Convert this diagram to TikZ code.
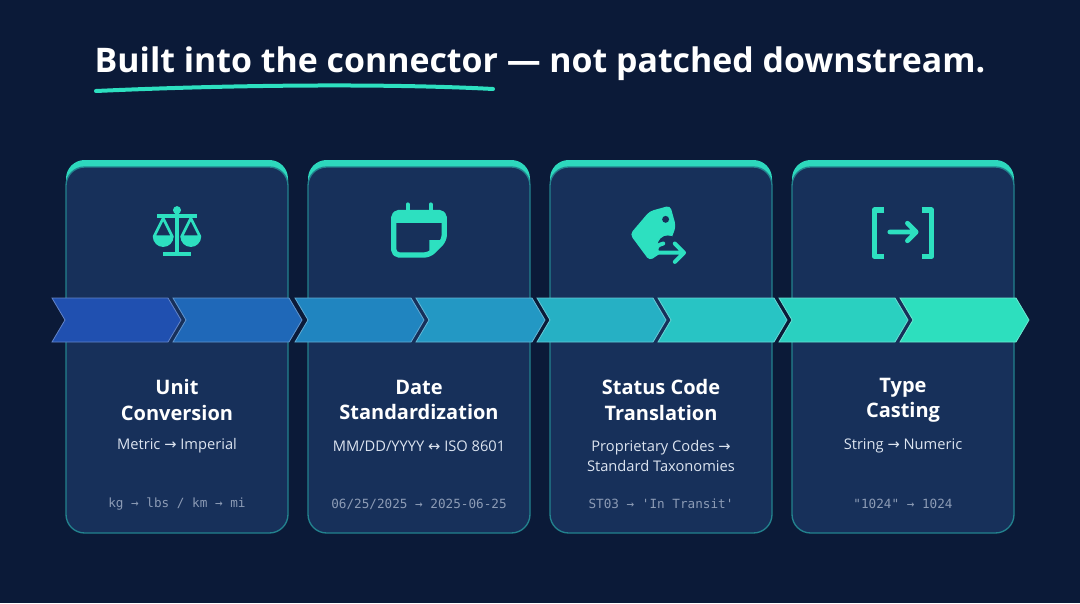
\documentclass[tikz,border=0pt]{standalone}
\usepackage{fontspec}
\setmainfont{Open Sans}
\newfontfamily\monof{DejaVu Sans Mono}
\newfontfamily\arf{DejaVu Sans}
\usetikzlibrary{calc}
\definecolor{bg}{HTML}{0B1A38}
\definecolor{card}{HTML}{17305A}
\definecolor{teal}{HTML}{2DE0C0}
\definecolor{tealb}{HTML}{2BB8B0}
\definecolor{mono}{HTML}{8C9BB5}
\definecolor{sub}{HTML}{DCE4F0}
\newcommand{\rar}{{\arf →}}
\newcommand{\lrar}{{\arf ↔}}
\begin{document}
\begin{tikzpicture}[x=0.75pt,y=-0.75pt,
  cardbox/.style={draw=tealb!60!card,line width=1pt,fill=card,rounded corners=14pt},
  ttl/.style={text=white,font=\fontsize{15}{19}\selectfont\bfseries,align=center},
  sb/.style={text=sub,font=\fontsize{11}{14.5}\selectfont,align=center},
  mn/.style={text=mono,font=\monof\fontsize{9.5}{12}\selectfont},
  icon/.style={fill=teal,draw=none}]
\fill[bg] (0,0) rectangle (1080,603);
\useasboundingbox (0,0) rectangle (1080,603);
% title
\node[text=white,font=\fontsize{25.4}{30}\selectfont\bfseries] (title) at (540,64) {Built into the connector — not patched downstream.};
\draw[teal,line width=3pt,line cap=round] (96,91) .. controls (250,84) and (400,84) .. (493,89);
% cards
\foreach \i/\cx in {1/177,2/419,3/661,4/903}{
  \fill[teal!80!tealb,rounded corners=14pt] (\cx-111,160) rectangle (\cx+111,200);
  \draw[cardbox] (\cx-111,167) rectangle (\cx+111,533);
  \coordinate (c\i) at (\cx,0);
}
% chevrons
\foreach \k/\x/\col in {0/52/2050B0,1/173/1F68B8,2/295/2085C0,3/416/2398C4,4/537/26B0C4,5/658/28C4C4,6/779/2AD0C0,7/900/2DDFBE}{
  \definecolor{cc}{HTML}{\col}
  \fill[cc,draw=cc!70!white,line width=0.6pt] (\x,298) -- (\x+116,298) -- (\x+129,320) -- (\x+116,342) -- (\x,342) -- (\x+13,320) -- cycle;
}
% icons: scale
\begin{scope}[shift={(177,232)},scale=1.15]
  \fill[teal] (-2,-19) rectangle (2,17);
  \fill[teal] (-17,-16) rectangle (17,-12);
  \fill[teal] (-12,17) rectangle (12,21);
  \fill[teal] (0,-19) circle (3.5);
  \draw[teal,line width=2pt,line join=round] (-20,4) -- (-12,-12) -- (-4,4) -- cycle;
  \draw[teal,line width=2pt,line join=round] (20,4) -- (12,-12) -- (4,4) -- cycle;
  \fill[teal] (-21,4) -- (-3,4) arc (0:180:9) -- cycle;
  \fill[teal] (3,4) -- (21,4) arc (0:180:9) -- cycle;
\end{scope}
\begin{scope}[shift={(419,232)},scale=1.15]
  \draw[teal,line width=4pt,rounded corners=4pt,line join=round] (9,20) -- (-22,20) -- (-22,-17) -- (22,-17) -- (22,7) -- cycle;
  \fill[teal] (-22,-17) rectangle (22,-8);
  \fill[teal] (22,7) -- (9,20) -- (9,7) -- cycle;
  \draw[teal,line width=3pt,line cap=round] (-10,-24) -- (-10,-14) (10,-24) -- (10,-14);
\end{scope}
\begin{scope}[shift={(661,232)},scale=1.15]
  \fill[teal,rounded corners=3pt] (-27,2) -- (-10,-18) -- (8,-23) -- (13,-5) -- (6,14) -- (-10,25) -- cycle;
  \fill[card] (4,-11) circle (3);
  \fill[card] (6,12) circle (9);
  \draw[teal,line width=3pt,line cap=round,line join=round] (-4,18) -- (20,18) (12,10) -- (20,18) -- (12,26);
  \draw[teal,line width=3pt,line cap=round] (-4,18) .. controls (-4,12) .. (2,10);
\end{scope}
\begin{scope}[shift={(903,232)},scale=1.1]
  \draw[teal,line width=4pt,line join=round] (-17,-20) -- (-26,-20) -- (-26,22) -- (-17,22);
  \draw[teal,line width=4pt,line join=round] (17,-20) -- (26,-20) -- (26,22) -- (17,22);
  \draw[teal,line width=3.5pt,line cap=round,line join=round] (-12,0) -- (12,0) (4,-8) -- (12,0) -- (4,8);
\end{scope}
% texts
\node[ttl] (t1) at (177,400) {Unit\\Conversion};
\node[ttl] (t2) at (419,400) {Date\\Standardization};
\node[ttl] (t3) at (661,400) {Status Code\\Translation};
\node[ttl] (t4) at (903,400) {Type\\Casting};
\node[sb] (s1) at (177,446) {Metric \rar{} Imperial};
\node[sb] (s2) at (419,446) {MM/DD/YYYY \lrar{} ISO 8601};
\node[sb] (s3) at (661,456) {Proprietary Codes \rar\\Standard Taxonomies};
\node[sb] (s4) at (903,446) {String \rar{} Numeric};
\node[mn] (m1) at (177,504) {kg → lbs / km → mi};
\node[mn] (m2) at (419,504) {06/25/2025 → 2025-06-25};
\node[mn] (m3) at (661,504) {ST03 → 'In Transit'};
\node[mn] (m4) at (903,504) {"1024" → 1024};
\end{tikzpicture}
\end{document}
